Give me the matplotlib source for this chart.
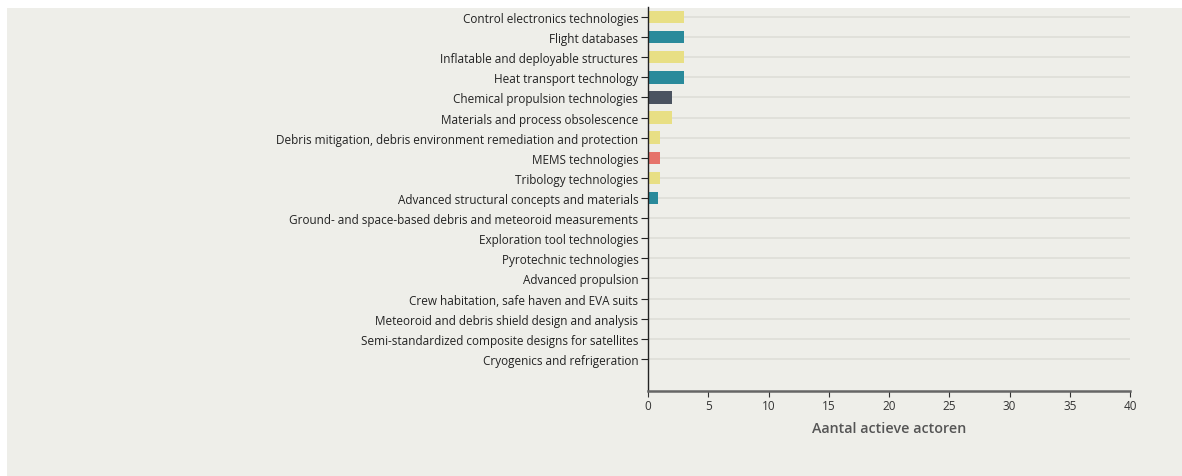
import matplotlib.pyplot as plt
from matplotlib.patches import Rectangle

categories = [
    "Control electronics technologies",
    "Flight databases",
    "Inflatable and deployable structures",
    "Heat transport technology",
    "Chemical propulsion technologies",
    "Materials and process obsolescence",
    "Debris mitigation, debris environment remediation and protection",
    "MEMS technologies",
    "Tribology technologies",
    "Advanced structural concepts and materials",
    "Ground- and space-based debris and meteoroid measurements",
    "Exploration tool technologies",
    "Pyrotechnic technologies",
    "Advanced propulsion",
    "Crew habitation, safe haven and EVA suits",
    "Meteoroid and debris shield design and analysis",
    "Semi-standardized composite designs for satellites",
    "Cryogenics and refrigeration",
]
values = [3, 3, 3, 3, 2, 2, 1, 1, 1, 0.8, 0, 0, 0, 0, 0, 0, 0, 0]
bar_colors = ["#e8df84", "#2a8a9b", "#e8df84", "#2a8a9b", "#4b5360", "#e8df84",
              "#e8df84", "#e6736a", "#e8df84", "#2a8a9b",
              "#e8df84", "#e8df84", "#e8df84", "#e8df84", "#e8df84", "#e8df84",
              "#e8df84", "#e8df84"]
x_ticks = [0, 5, 10, 15, 20, 25, 30, 35, 40]

plt.rcParams["font.family"] = ["Open Sans", "DejaVu Sans"]

fig = plt.figure(figsize=(11.82, 4.77), dpi=100, facecolor="white")
# grijs achtergrondvlak achter de assen
fig.add_artist(Rectangle((7 / 1182, 0), 1 - 7 / 1182, 1 - 9 / 477,
                         transform=fig.transFigure, facecolor="#eeeee9",
                         edgecolor="none", zorder=-10))

ax = fig.add_axes([648 / 1182, 1 - 392 / 477, 482 / 1182, 384 / 477])
ax.set_facecolor("none")
ax.set_zorder(1)

pos = list(range(len(categories)))
for p in pos:
    ax.axhline(p, color="#dfdfd9", linewidth=1.3, zorder=1)
ax.barh(pos, values, height=0.62, color=bar_colors, zorder=2)

ax.set_xlim(0, 40)
ax.set_ylim(18.6, -0.5)
ax.set_yticks(pos)
ax.set_yticklabels(categories, fontsize=8.5, color="#222222")
ax.set_xticks(x_ticks)
ax.set_xticklabels([str(t) for t in x_ticks], fontsize=8.5, color="#333333")
ax.tick_params(axis="y", length=5, width=0.8, pad=2, color="#222222")
ax.tick_params(axis="x", length=4, width=0.8, pad=2, color="#333333")

for side in ["top", "right"]:
    ax.spines[side].set_visible(False)
ax.spines["left"].set_color("#222222")
ax.spines["left"].set_linewidth(1.0)
ax.spines["bottom"].set_color("#666666")
ax.spines["bottom"].set_linewidth(1.8)

ax.set_xlabel("Aantal actieve actoren", fontsize=10.3, color="#555555",
              fontweight="semibold", labelpad=6)

plt.savefig("out.png", dpi=100, facecolor="white")
